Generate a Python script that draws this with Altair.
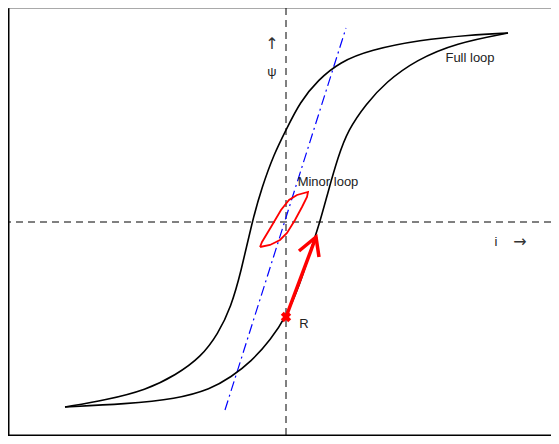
import altair as alt
import pandas as pd

W, H = 543, 428
XD = [-278, 265]
YD = [-214, 214]

# Full loop, upper (descending) branch
up_i = [-221, -180, -140, -110, -85, -68, -55, -45, -34, -24, -12, 0, 14, 32, 54, 84, 134, 184, 222]
up_psi = [-185, -178, -168, -153, -135, -112, -85, -50, 0, 35, 68, 92, 120, 142, 160, 172, 182, 187, 189]
# Full loop, lower (ascending) branch
lo_i = [-221, -160, -110, -75, -55, -35, -15, 0, 14, 24, 34, 42, 52, 62, 80, 100, 130, 170, 222]
lo_psi = [-185, -182, -177, -167, -155, -140, -117, -95, -62, -30, 0, 30, 65, 92, 118, 140, 162, 179, 189]
# Minor loop
mi_i = [-26, -24, -15, -5, 3, 11, 22, 21, 16, 9, 1, -6, -16, -26]
mi_psi = [-25, -20, -5, 12, 22, 27, 30, 25, 15, 2, -11, -18, -23, -25]
# Blue dash-dot line
bl_i = [-61, 60]
bl_psi = [-188, 194]
# Red arrow from R
ar_i = [0, 30]
ar_psi = [-95, -15]
barb_i = [13, 30, 33]
barb_psi = [-29, -15, -35]
# Labels
lab_text = ["ψ", "i", "Full loop", "Minor loop", "R"]
lab_i = [-14, 210, 184, 42, 18]
lab_psi = [150, -20, 164, 40, -102]
arr_text = ["↑", "→"]
arr_i = [-14, 234]
arr_psi = [178, -20]


def df(xs, ys):
    return pd.DataFrame({"i": xs, "psi": ys, "k": list(range(len(xs)))})


xs = alt.Scale(domain=XD, nice=False, zero=False)
ys = alt.Scale(domain=YD, nice=False, zero=False)
X = alt.X("i:Q", scale=xs, axis=None)
Y = alt.Y("psi:Q", scale=ys, axis=None)
O = alt.Order("k:Q")

frame_l = alt.Chart(pd.DataFrame({"a": [0]})).mark_rule(color="black", strokeWidth=3).encode(
    x=alt.value(0), y=alt.value(0), y2=alt.value(H))
frame_t = alt.Chart(pd.DataFrame({"a": [0]})).mark_rule(color="#555", strokeWidth=1).encode(
    y=alt.value(0), x=alt.value(0), x2=alt.value(W))
frame_b = alt.Chart(pd.DataFrame({"a": [0]})).mark_rule(color="black", strokeWidth=3).encode(
    y=alt.value(H), x=alt.value(0), x2=alt.value(W))

vdash = alt.Chart(pd.DataFrame({"i": [0]})).mark_rule(color="black", strokeWidth=1, strokeDash=[7, 5]).encode(x=X)
hdash = alt.Chart(pd.DataFrame({"psi": [0]})).mark_rule(color="black", strokeWidth=1, strokeDash=[7, 5]).encode(y=Y)

up = alt.Chart(df(up_i, up_psi)).mark_line(color="black", strokeWidth=1.6, interpolate="basis").encode(x=X, y=Y, order=O)
lo = alt.Chart(df(lo_i, lo_psi)).mark_line(color="black", strokeWidth=1.6, interpolate="basis").encode(x=X, y=Y, order=O)
mi = alt.Chart(df(mi_i, mi_psi)).mark_line(color="red", strokeWidth=1.8, interpolate="linear").encode(x=X, y=Y, order=O)
bl = alt.Chart(df(bl_i, bl_psi)).mark_line(color="blue", strokeWidth=1.2, strokeDash=[10, 4, 2, 4]).encode(x=X, y=Y, order=O)
ar = alt.Chart(df(ar_i, ar_psi)).mark_line(color="red", strokeWidth=3.5).encode(x=X, y=Y, order=O)
barb = alt.Chart(df(barb_i, barb_psi)).mark_line(color="red", strokeWidth=3.5, strokeJoin="miter").encode(x=X, y=Y, order=O)
rpt = alt.Chart(df([0], [-95])).mark_point(shape="cross", filled=True, color="red", size=110, opacity=1, angle=45).encode(x=X, y=Y)

labels = alt.Chart(pd.DataFrame({"i": lab_i, "psi": lab_psi, "t": lab_text})).mark_text(
    font="Liberation Sans", fontSize=13, color="#222", align="center", baseline="middle").encode(
    x=X, y=Y, text="t:N")
arrows = alt.Chart(pd.DataFrame({"i": arr_i, "psi": arr_psi, "t": arr_text})).mark_text(
    font="DejaVu Sans", fontSize=16, color="#333", align="center", baseline="middle").encode(
    x=X, y=Y, text="t:N")

chart = alt.layer(frame_l, frame_t, frame_b, vdash, hdash, bl, up, lo, mi, ar, barb, rpt, labels, arrows).properties(
    width=W, height=H, padding=0, autosize=alt.AutoSizeParams(type="none")
).configure_view(stroke=None)

chart.save("out.html", embed_options={"renderer": "svg", "actions": False})
